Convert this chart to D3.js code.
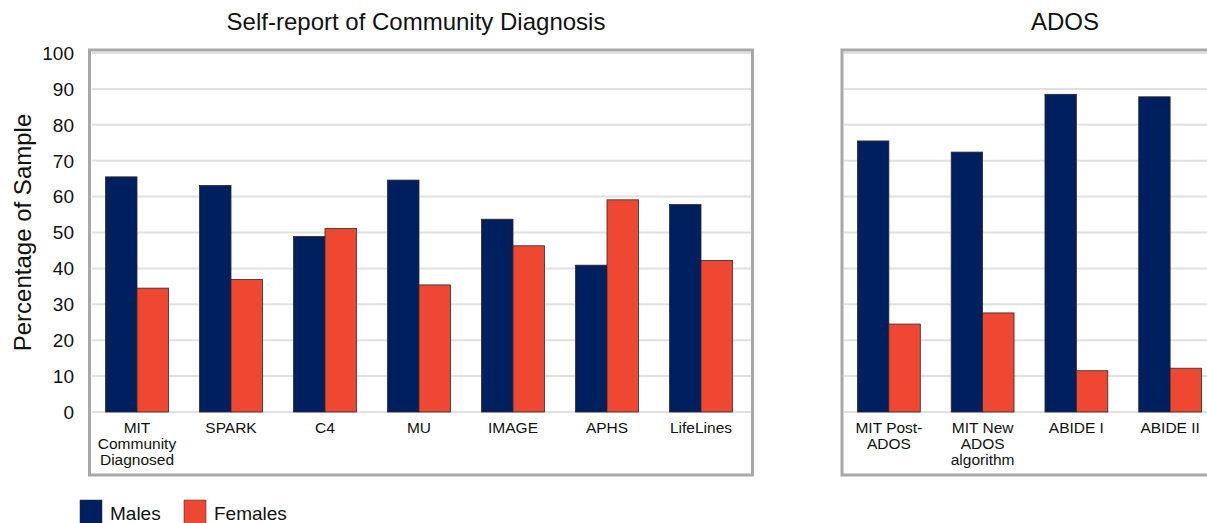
<!DOCTYPE html>
<html>
<head>
<meta charset="utf-8">
<script src="https://cdn.jsdelivr.net/npm/d3@7"></script>
<style>
  body { margin: 0; background: #fff; }
  svg { display: block; font-family: "Liberation Sans", Arial, sans-serif; }
  .grid line { stroke: #e0e0e0; stroke-width: 2; }
  .frame { fill: none; stroke: #a8a8a8; stroke-width: 3; }
  .tick-y { font-size: 19px; fill: #111; }
  .tick-x { font-size: 15.5px; fill: #111; }
  .title { font-size: 24px; fill: #111; }
</style>
</head>
<body>
<div id="chart"></div>
<script>
// Data
const communityCats = ["MIT Community Diagnosed", "SPARK", "C4", "MU", "IMAGE", "APHS", "LifeLines"];
const communityLabels = [["MIT", "Community", "Diagnosed"], ["SPARK"], ["C4"], ["MU"], ["IMAGE"], ["APHS"], ["LifeLines"]];
const communityMales = [65.5, 63.1, 48.9, 64.6, 53.7, 40.9, 57.8];
const communityFemales = [34.5, 36.9, 51.1, 35.4, 46.3, 59.1, 42.2];

const adosCats = ["MIT Post-ADOS", "MIT New ADOS algorithm", "ABIDE I", "ABIDE II"];
const adosLabels = [["MIT Post-", "ADOS"], ["MIT New", "ADOS", "algorithm"], ["ABIDE I"], ["ABIDE II"]];
const adosMales = [75.5, 72.4, 88.5, 87.8];
const adosFemales = [24.5, 27.6, 11.5, 12.2];

const yTicks = [0, 10, 20, 30, 40, 50, 60, 70, 80, 90, 100];
const seriesNames = ["Males", "Females"];
const seriesColors = ["#001f5f", "#ee4833"];

const W = 1207, H = 523;

const svg = d3.select("#chart").append("svg")
  .attr("width", W)
  .attr("height", H);

// Shared y scale
const y = d3.scaleLinear().domain([0, 100]).range([412, 53]);

// Draw one framed panel of grouped bars
function drawPanel(opts)
{
  const g = svg.append("g");

  // Frame
  g.append("rect")
    .attr("class", "frame")
    .attr("x", opts.frame[0])
    .attr("y", opts.frame[1])
    .attr("width", opts.frame[2])
    .attr("height", opts.frame[3]);

  // Grid lines
  g.append("g")
    .attr("class", "grid")
    .selectAll("line")
    .data(yTicks)
    .enter()
    .append("line")
    .attr("x1", opts.gridX[0])
    .attr("x2", opts.gridX[1])
    .attr("y1", d => y(d))
    .attr("y2", d => y(d));

  // Group and bar scales
  const x0 = d3.scaleBand()
    .domain(opts.cats)
    .range(opts.range)
    .paddingInner(0.33)
    .paddingOuter(0.165);
  const x1 = d3.scaleBand()
    .domain(seriesNames)
    .range([0, x0.bandwidth()]);

  const rows = opts.cats.map((c, i) => ({
    cat: c,
    values: [opts.males[i], opts.females[i]]
  }));

  const groups = g.selectAll("g.group")
    .data(rows)
    .enter()
    .append("g")
    .attr("class", "group")
    .attr("transform", d => "translate(" + x0(d.cat) + ",0)");

  groups.selectAll("rect")
    .data(d => d.values.map((v, k) => ({ key: seriesNames[k], v: v, k: k })))
    .enter()
    .append("rect")
    .attr("x", d => x1(d.key))
    .attr("y", d => y(d.v))
    .attr("width", x1.bandwidth())
    .attr("height", d => y(0) - y(d.v))
    .attr("fill", d => seriesColors[d.k])
    .attr("stroke", "#2a2a2a")
    .attr("stroke-width", 0.8);

  // Category labels
  const labels = g.selectAll("text.tick-x")
    .data(opts.cats)
    .enter()
    .append("text")
    .attr("class", "tick-x")
    .attr("text-anchor", "middle")
    .attr("x", d => x0(d) + x0.bandwidth() / 2)
    .attr("y", 433);
  labels.each(function(d, i) {
    const t = d3.select(this);
    opts.labels[i].forEach((line, j) => {
      t.append("tspan")
        .attr("x", x0(d) + x0.bandwidth() / 2)
        .attr("dy", j === 0 ? 0 : 16)
        .text(line);
    });
  });

  // Title
  g.append("text")
    .attr("class", "title")
    .attr("text-anchor", "middle")
    .attr("x", opts.titleX)
    .attr("y", 30)
    .text(opts.title);
}

drawPanel({
  cats: communityCats,
  labels: communityLabels,
  males: communityMales,
  females: communityFemales,
  frame: [89.5, 50, 663, 425],
  gridX: [92, 751],
  range: [90, 748],
  title: "Self-report of Community Diagnosis",
  titleX: 416
});

drawPanel({
  cats: adosCats,
  labels: adosLabels,
  males: adosMales,
  females: adosFemales,
  frame: [842, 50, 400, 425],
  gridX: [844, 1207],
  range: [842, 1217],
  title: "ADOS",
  titleX: 1065
});

// Y axis tick labels
svg.append("g")
  .selectAll("text")
  .data(yTicks)
  .enter()
  .append("text")
  .attr("class", "tick-y")
  .attr("text-anchor", "end")
  .attr("x", 74)
  .attr("y", d => y(d))
  .attr("dy", "0.36em")
  .text(d => d);

// Y axis title
svg.append("text")
  .attr("class", "title")
  .attr("text-anchor", "middle")
  .attr("transform", "translate(31," + y(50) + ") rotate(-90)")
  .text("Percentage of Sample");

// Legend
const legend = svg.append("g")
  .selectAll("g")
  .data(seriesNames)
  .enter()
  .append("g")
  .attr("transform", (d, i) => "translate(" + (i === 0 ? 80 : 184) + ",500)");

legend.append("rect")
  .attr("width", 22)
  .attr("height", 24)
  .attr("fill", (d, i) => seriesColors[i])
  .attr("stroke", "#2a2a2a")
  .attr("stroke-width", 0.5);

legend.append("text")
  .attr("x", 30)
  .attr("y", 20)
  .attr("font-size", 19)
  .attr("fill", "#111")
  .text(d => d);
</script>
</body>
</html>
